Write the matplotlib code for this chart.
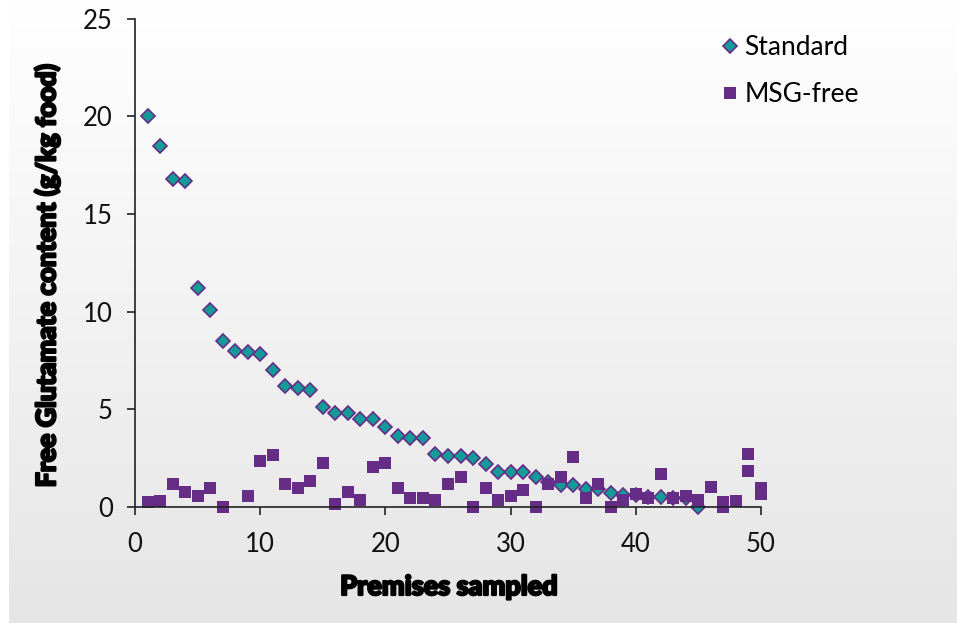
import numpy as np
import matplotlib.pyplot as plt
import matplotlib.patheffects as pe

# Standard premises (one sample per premises, 1..45)
std_x = list(range(1, 46))
std_y = [20.0, 18.5, 16.8, 16.7, 11.2, 10.1, 8.5, 8.0, 7.9, 7.8,
         7.0, 6.2, 6.1, 6.0, 5.1, 4.8, 4.8, 4.5, 4.5, 4.1,
         3.6, 3.5, 3.5, 2.7, 2.6, 2.6, 2.5, 2.2, 1.8, 1.8,
         1.8, 1.5, 1.25, 1.1, 1.1, 0.9, 0.9, 0.7, 0.6, 0.6,
         0.5, 0.5, 0.43, 0.43, 0.0]

# MSG-free premises (some premises have two samples)
msg_x = [1, 2, 3, 4, 5, 6, 7, 9, 10, 11,
         12, 13, 14, 15, 16, 17, 18, 19, 20, 21,
         22, 23, 24, 25, 26, 27, 28, 29, 30, 31,
         32, 33, 34, 35, 36, 37, 38, 39, 40, 41,
         42, 43, 44, 45, 46, 47, 47, 48, 49, 49,
         50, 50]
msg_y = [0.22, 0.31, 1.15, 0.74, 0.53, 0.94, 0.0, 0.53, 2.32, 2.63,
         1.15, 0.94, 1.3, 2.22, 0.12, 0.74, 0.33, 2.02, 2.22, 0.94,
         0.43, 0.43, 0.33, 1.15, 1.51, 0.0, 0.94, 0.33, 0.53, 0.84,
         0.0, 1.15, 1.51, 2.53, 0.43, 1.15, 0.0, 0.33, 0.63, 0.43,
         1.66, 0.43, 0.53, 0.33, 0.99, 0.22, 0.0, 0.31, 2.72, 1.81,
         0.94, 0.63]

W, H = 957, 623
fig = plt.figure(figsize=(W / 100, H / 100), dpi=100)
fig.patch.set_facecolor('white')

# gradient backdrop (white at top -> light grey at bottom)
bg = fig.add_axes([9 / W, 0, 1 - 9 / W, 1])
grad = np.linspace(1.0, 0.9, 256).reshape(-1, 1)
bg.imshow(np.dstack([grad, grad, grad]), aspect='auto', extent=[0, 1, 0, 1])
bg.axis('off')

ax = fig.add_axes([135 / W, 1 - 506.7 / H, (761 - 135) / W, (506.7 - 18.7) / H])
ax.patch.set_alpha(0)

teal = '#129b98'
purple = '#662d87'

ax.plot(std_x, std_y, linestyle='none', marker='D', markersize=6.8,
        markerfacecolor=teal, markeredgecolor=purple, markeredgewidth=1.2,
        clip_on=False, label='Standard')
ax.plot(msg_x, msg_y, linestyle='none', marker='s', markersize=8,
        markerfacecolor=purple, markeredgecolor=purple, markeredgewidth=0,
        clip_on=False, label='MSG-free')

ax.set_xlim(0, 50)
ax.set_ylim(0, 25)
ax.set_xticks([0, 10, 20, 30, 40, 50])
ax.set_yticks([0, 5, 10, 15, 20, 25])

for s in ['top', 'right']:
    ax.spines[s].set_visible(False)
for s in ['left', 'bottom']:
    ax.spines[s].set_linewidth(1.2)
    ax.spines[s].set_color('#222222')

ax.tick_params(axis='both', direction='out', length=6, width=1.2, colors='#222222',
               labelsize=18.5, labelcolor='#111111')
ax.tick_params(axis='x', pad=12)
ax.tick_params(axis='y', pad=10)
for lbl in ax.get_xticklabels() + ax.get_yticklabels():
    lbl.set_fontfamily(['Lato', 'DejaVu Sans'])

heavy = [pe.withStroke(linewidth=1.6, foreground='black')]
fig.text(47 / W, 1 - 276 / H, 'Free Glutamate content (g/kg food)', rotation=90,
         ha='center', va='center', fontsize=19.2, fontweight='black',
         family=['Lato', 'DejaVu Sans'], path_effects=heavy)
fig.text(449 / W, 1 - 587 / H, 'Premises sampled', ha='center', va='center',
         fontsize=19.5, fontweight='black', family=['Lato', 'DejaVu Sans'],
         path_effects=heavy)

leg = ax.legend(loc='upper left', bbox_to_anchor=(718 / W, 1 - 35 / H),
                bbox_transform=fig.transFigure, frameon=False,
                prop={'family': ['Lato', 'DejaVu Sans'], 'size': 19},
                handlelength=0.9, handletextpad=0.1, labelspacing=0.85,
                borderpad=0, borderaxespad=0)

fig.savefig('out.png', dpi=100)
